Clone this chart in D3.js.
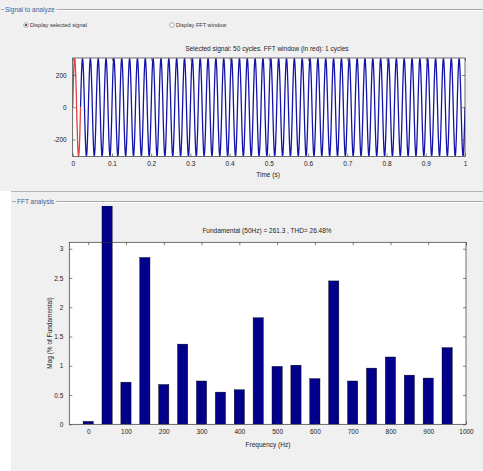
<!DOCTYPE html>
<html><head><meta charset="utf-8">
<script src="https://cdn.jsdelivr.net/npm/d3@7"></script>
<style>
html,body{margin:0;padding:0;background:#fff;}
svg{display:block;font-family:"Liberation Sans",Arial,sans-serif;}
</style></head>
<body>
<script>
// ---- data ----
const cyclesShown = 50;
const fftCycles = 1;
const fundamentalHz = 50;
const cycleSamples = [0, 80, 152, 214, 262, 292, 302, 292, 262, 214, 152, 80, 0, -80, -152, -214, -262, -292, -302, -292, -262, -214, -152, -80];
const timeTicks = [0, 0.1, 0.2, 0.3, 0.4, 0.5, 0.6, 0.7, 0.8, 0.9, 1];
const timeTickLabels = ["0", "0.1", "0.2", "0.3", "0.4", "0.5", "0.6", "0.7", "0.8", "0.9", "1"];
const signalTicks = [-200, 0, 200];

const harmonicFreqs = [0, 50, 100, 150, 200, 250, 300, 350, 400, 450, 500, 550, 600, 650, 700, 750, 800, 850, 900, 950];
const harmonicMags = [0.05, 100, 0.72, 2.85, 0.68, 1.37, 0.74, 0.55, 0.59, 1.82, 0.99, 1.01, 0.78, 2.45, 0.74, 0.96, 1.15, 0.84, 0.79, 1.31];
const freqTicks = [0, 100, 200, 300, 400, 500, 600, 700, 800, 900, 1000];
const magTicks = [0, 0.5, 1, 1.5, 2, 2.5, 3];
const magTickLabels = ["0", "0.5", "1", "1.5", "2", "2.5", "3"];

const topTitle = "Selected signal: 50 cycles. FFT window (in red): 1 cycles";
const fftTitle = "Fundamental (50Hz) = 261.3 , THD= 26.48%";

// ---- build time series from the cycle samples ----
const N = cycleSamples.length;
const signal = [];
for (let c = 0; c < cyclesShown; c++) {
  for (let k = 0; k < N; k++) {
    signal.push({t: (c * N + k) / (N * fundamentalHz), v: cycleSamples[k]});
  }
}
signal.push({t: 1, v: cycleSamples[0]});

const W = 483, H = 471;
const svg = d3.select("body").append("svg").attr("width", W).attr("height", H);

// backgrounds
svg.append("rect").attr("x", 0).attr("y", 0).attr("width", W).attr("height", 191).attr("fill", "#f0f0f0");
svg.append("rect").attr("x", 11).attr("y", 191).attr("width", W - 11).attr("height", H - 191).attr("fill", "#f0f0f0");
svg.append("line").attr("x1", 11).attr("x2", W).attr("y1", 191.5).attr("y2", 191.5).attr("stroke", "#b4b4b4");

function groupBox(x0, y, label, textX) {
  svg.append("line").attr("x1", x0).attr("x2", textX - 1).attr("y1", y).attr("y2", y).attr("stroke", "#a8a8a8");
  const t = svg.append("text").attr("x", textX).attr("y", y + 2).attr("font-size", 6.5).attr("fill", "#3a5fa0").text(label);
  const w = t.node().getComputedTextLength();
  svg.append("line").attr("x1", textX + w + 2).attr("x2", W).attr("y1", y).attr("y2", y).attr("stroke", "#a8a8a8");
  svg.append("line").attr("x1", textX + w + 2).attr("x2", W).attr("y1", y + 1).attr("y2", y + 1).attr("stroke", "#ffffff");
}
groupBox(1, 9.5, "Signal to analyze", 5);
groupBox(12, 201.5, "FFT analysis", 17);

// radio buttons
function radio(cx, cy, checked, label) {
  svg.append("circle").attr("cx", cx).attr("cy", cy).attr("r", 2.3).attr("fill", "#fff").attr("stroke", "#8a8a8a").attr("stroke-width", 0.7);
  if (checked) svg.append("circle").attr("cx", cx).attr("cy", cy).attr("r", 1.1).attr("fill", "#333");
  svg.append("text").attr("x", cx + 4).attr("y", cy + 2).attr("font-size", 5.6).attr("fill", "#333").text(label);
}
radio(26, 25, true, "Display selected signal");
radio(172, 25, false, "Display FFT window");

const fs = 6.5;
const txt = "#222";

// ---- top plot ----
const tx = d3.scaleLinear().domain([0, 1]).range([72.7, 465]);
const ty = d3.scaleLinear().domain([-305, 305]).range([156.5, 58]);
const gTop = svg.append("g");
gTop.append("rect").attr("x", tx(0)).attr("y", ty(305)).attr("width", tx(1) - tx(0)).attr("height", ty(-305) - ty(305)).attr("fill", "#fff");
gTop.append("defs").append("clipPath").attr("id", "clipTop").append("rect")
  .attr("x", tx(0)).attr("y", ty(305)).attr("width", tx(1) - tx(0)).attr("height", ty(-305) - ty(305));
const line = d3.line().x(d => tx(d.t)).y(d => ty(d.v));
const win = fftCycles / fundamentalHz;
gTop.append("path").datum(signal.filter(d => d.t >= win - 1e-9))
  .attr("d", line).attr("fill", "none").attr("stroke", "#1414a8").attr("stroke-width", 1.3).attr("clip-path", "url(#clipTop)");
gTop.append("path").datum(signal.filter(d => d.t <= win + 1e-9))
  .attr("d", line).attr("fill", "none").attr("stroke", "#e04040").attr("stroke-width", 1.3).attr("clip-path", "url(#clipTop)");

function boxAxes(g, xs, ys, xt, xl, yt, yl) {
  const [x0, x1] = xs.range(), [y0, y1] = ys.range();
  g.append("g").attr("transform", `translate(0,${y0})`)
    .call(d3.axisBottom(xs).tickValues(xt).tickFormat((d, i) => xl[i]).tickSizeInner(-3).tickSizeOuter(0).tickPadding(5))
    .call(a => { a.select(".domain").remove(); a.selectAll("line").attr("stroke", "#333").attr("stroke-width", 0.6); a.selectAll("text").attr("font-size", fs).attr("fill", txt).attr("font-family", null); });
  g.append("g").attr("transform", `translate(0,${y1})`)
    .call(d3.axisTop(xs).tickValues(xt).tickFormat("").tickSizeInner(-3).tickSizeOuter(0))
    .call(a => { a.select(".domain").remove(); a.selectAll("line").attr("stroke", "#333").attr("stroke-width", 0.6); });
  g.append("g").attr("transform", `translate(${x0},0)`)
    .call(d3.axisLeft(ys).tickValues(yt).tickFormat((d, i) => yl[i]).tickSizeInner(-3).tickSizeOuter(0).tickPadding(6))
    .call(a => { a.select(".domain").remove(); a.selectAll("line").attr("stroke", "#333").attr("stroke-width", 0.6); a.selectAll("text").attr("font-size", fs).attr("fill", txt).attr("font-family", null); });
  g.append("g").attr("transform", `translate(${x1},0)`)
    .call(d3.axisRight(ys).tickValues(yt).tickFormat("").tickSizeInner(-3).tickSizeOuter(0))
    .call(a => { a.select(".domain").remove(); a.selectAll("line").attr("stroke", "#333").attr("stroke-width", 0.6); });
  g.append("rect").attr("x", x0).attr("y", y1).attr("width", x1 - x0).attr("height", y0 - y1)
    .attr("fill", "none").attr("stroke", "#333").attr("stroke-width", 0.7);
}
boxAxes(gTop, tx, ty, timeTicks, timeTickLabels, signalTicks, signalTicks.map(String));
gTop.append("text").attr("x", 267).attr("y", 51).attr("text-anchor", "middle").attr("font-size", fs).attr("fill", txt).text(topTitle);
gTop.append("text").attr("x", 268).attr("y", 177).attr("text-anchor", "middle").attr("font-size", fs).attr("fill", txt).text("Time (s)");

// ---- FFT plot ----
const fx = d3.scaleLinear().domain([-50, 1000]).range([69.3, 466]);
const fy = d3.scaleLinear().domain([0, 3.11]).range([424.3, 242.3]);
const gBot = svg.append("g");
gBot.append("rect").attr("x", fx(-50)).attr("y", fy(3.11)).attr("width", fx(1000) - fx(-50)).attr("height", fy(0) - fy(3.11)).attr("fill", "#fff");
gBot.append("defs").append("clipPath").attr("id", "clipBars").append("rect")
  .attr("x", 0).attr("y", 206).attr("width", W).attr("height", fy(0) - 206);
const barW = 27;
gBot.append("g").attr("clip-path", "url(#clipBars)").selectAll("rect").data(harmonicFreqs).join("rect")
  .attr("x", (d) => fx(d - barW / 2))
  .attr("width", fx(barW) - fx(0))
  .attr("y", (d, i) => fy(harmonicMags[i]))
  .attr("height", (d, i) => fy(0) - fy(harmonicMags[i]))
  .attr("fill", "#00008a").attr("stroke", "#000").attr("stroke-width", 0.4);
boxAxes(gBot, fx, fy, freqTicks, freqTicks.map(String), magTicks, magTickLabels);
gBot.append("text").attr("x", 267).attr("y", 233).attr("text-anchor", "middle").attr("font-size", fs).attr("fill", txt).text(fftTitle);
gBot.append("text").attr("x", 268).attr("y", 447).attr("text-anchor", "middle").attr("font-size", fs).attr("fill", txt).text("Frequency (Hz)");
gBot.append("text").attr("transform", "translate(52,333) rotate(-90)").attr("text-anchor", "middle").attr("font-size", fs).attr("fill", txt).text("Mag (% of Fundamental)");
</script>
</body></html>
